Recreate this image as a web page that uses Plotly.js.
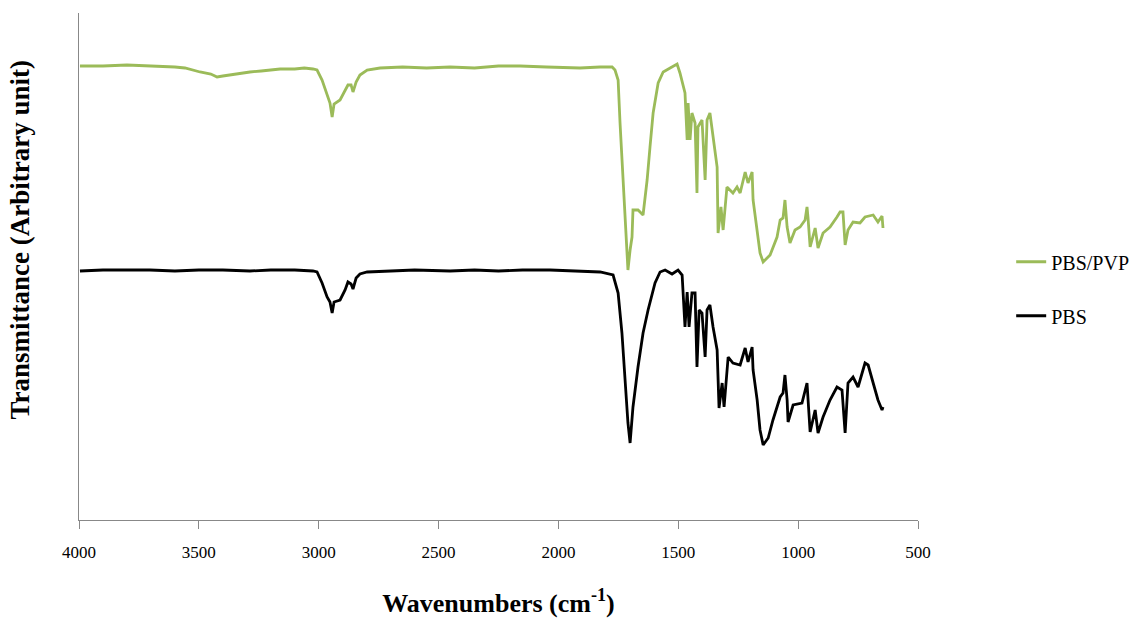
<!DOCTYPE html>
<html>
<head>
<meta charset="utf-8">
<script src="https://cdn.plot.ly/plotly-3.0.1.min.js"></script>
<style>html,body{margin:0;padding:0;background:#fff;}#chart{width:1140px;height:618px;}</style>
</head>
<body>
<div id="chart"></div>
<script>
// PBS/PVP spectrum (wavenumber cm-1, transmittance arbitrary unit)
const pvpWave = [3996,3900,3800,3700,3650,3600,3558,3495,3450,3424,3400,3370,3330,3287,3240,3200,3161,3100,3060,3024,3007,2986,2965,2953,2944,2936,2911,2890,2878,2865,2857,2844,2828,2798,2744,2650,2550,2452,2350,2250,2160,2050,1960,1910,1826,1776,1764,1751,1743,1730,1714,1710,1701,1693,1689,1668,1647,1630,1618,1605,1584,1563,1534,1505,1493,1472,1463,1459,1451,1443,1430,1422,1418,1401,1388,1380,1368,1355,1338,1334,1322,1313,1297,1272,1255,1242,1221,1209,1192,1188,1171,1159,1146,1117,1088,1075,1063,1055,1046,1034,1013,992,971,963,959,950,929,917,896,867,838,825,813,804,792,771,742,721,687,667,650,646];
const pvpT    = [454,454,455,454,454,453,452,448,446,443,444,445,447,448,449,450,451,451,452,451,450,440,425,417,403,416,420,430,435,435,428,438,445,450,452,453,452,453,452,454,454,453,452,452,453,453,450,440,397,340,280,250,270,283,310,310,305,340,373,407,437,448,452,456,447,427,380,417,380,407,397,327,393,400,340,400,407,383,353,287,313,290,333,327,333,327,348,337,348,320,287,267,258,265,283,300,302,320,293,277,290,293,300,313,303,273,292,272,287,293,303,308,308,275,290,298,297,303,305,298,304,292];
// PBS spectrum
const pbsWave = [3996,3900,3800,3704,3600,3500,3400,3287,3200,3100,3024,3007,2986,2965,2953,2944,2936,2911,2890,2878,2865,2857,2844,2828,2798,2700,2600,2452,2350,2250,2150,2035,1950,1826,1772,1751,1735,1722,1710,1701,1689,1668,1647,1626,1597,1576,1555,1526,1501,1484,1472,1463,1455,1443,1430,1422,1413,1401,1388,1380,1368,1355,1338,1330,1317,1309,1292,1272,1242,1221,1209,1192,1188,1171,1159,1146,1125,1105,1075,1063,1055,1046,1042,1021,984,963,959,950,929,917,896,867,838,817,804,792,771,750,721,708,687,667,650,646];
const pbsT    = [249,250,250,250,249,250,250,249,250,250,249,248,237,223,218,207,218,220,230,238,236,231,242,246,248,249,250,249,250,249,250,250,249,248,245,227,187,137,97,77,113,153,187,210,237,248,250,246,250,245,193,228,193,227,227,153,210,207,163,210,215,193,170,112,137,113,163,157,155,172,158,173,150,120,90,75,82,100,123,127,145,120,98,115,117,137,123,88,110,87,103,120,133,130,87,137,143,133,157,155,137,120,110,113];
const seriesNames = ["PBS/PVP","PBS"];
const xTicks = [4000,3500,3000,2500,2000,1500,1000,500];

const serif = "Liberation Serif, Times New Roman, serif";
const traces = [
  {x: pvpWave, y: pvpT, name: seriesNames[0], type: "scatter", mode: "lines",
   line: {color: "#9BBB59", width: 2.8}, legendgroup: "a"},
  {x: pbsWave, y: pbsT, name: seriesNames[1], type: "scatter", mode: "lines",
   line: {color: "#000000", width: 2.8}, legendgroup: "b"}
];
const layout = {
  width: 1140, height: 618,
  margin: {l: 79, r: 222, t: 13, b: 98, autoexpand: false},
  paper_bgcolor: "#fff", plot_bgcolor: "#fff",
  font: {family: serif, color: "#000", size: 16},
  showlegend: true,
  legend: {xref: "container", yref: "container", x: 0.887, y: 0.608, xanchor: "left", yanchor: "top",
           font: {family: serif, size: 20, color: "#000"},
           tracegroupgap: 25, bgcolor: "rgba(0,0,0,0)"},
  xaxis: {range: [4000, 500], tickvals: xTicks, ticktext: xTicks.map(String),
          showgrid: false, zeroline: false, showline: true, linecolor: "#888", linewidth: 1,
          ticks: "outside", ticklen: 8, tickcolor: "#888", ticklabelstandoff: 9,
          tickfont: {family: serif, size: 17, color: "#000"},
          title: {text: "<b>Wavenumbers (cm<sup>-1</sup>)</b>", font: {family: serif, size: 26, color: "#000"}, standoff: 38}},
  yaxis: {range: [0, 507], showgrid: false, zeroline: false, showline: true, linecolor: "#888", linewidth: 1,
          ticks: "", showticklabels: false},
  annotations: [{text: "<b>Transmittance (Arbitrary unit)</b>", textangle: -90, xref: "paper", yref: "paper",
                 x: -0.070, y: 0.552, xanchor: "center", yanchor: "middle", showarrow: false,
                 font: {family: serif, size: 27, color: "#000"}}]
};
Plotly.newPlot("chart", traces, layout, {displayModeBar: false, staticPlot: true});
</script>
</body>
</html>
